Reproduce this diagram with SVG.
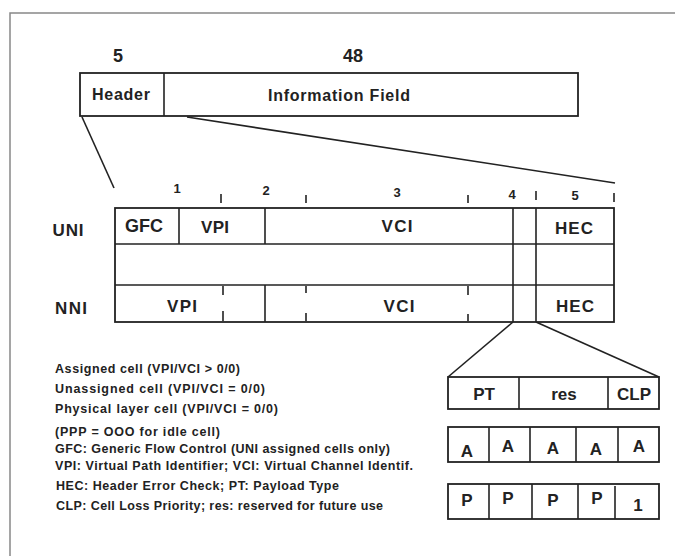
<svg xmlns="http://www.w3.org/2000/svg" width="675" height="556" viewBox="0 0 675 556">
<style>
.ln{stroke:#222;stroke-width:1.6;fill:none}
.bx{stroke:#222;stroke-width:1.8;fill:#fff}
.t{font-family:"Liberation Sans",Arial,sans-serif;font-weight:bold;fill:#222;text-anchor:middle}
.c{font-size:17px}
.n{font-size:13px}
.big{font-size:18px}
.leg{font-family:"Liberation Sans",Arial,sans-serif;font-weight:bold;fill:#222;font-size:12.5px}
</style>
<rect width="675" height="556" fill="#fff"/>
<path d="M10,556 V13 H675" stroke="#888" stroke-width="1.5" fill="none"/>

<g id="cell">
<text class="t big" x="118" y="62">5</text>
<text class="t big" x="353" y="62">48</text>
<rect class="bx" x="80" y="73" width="498" height="43"/>
<line class="ln" x1="164" y1="73" x2="164" y2="116"/>
<text class="t" style="font-size:16px" x="121" y="100" textLength="58" lengthAdjust="spacing">Header</text>
<text class="t" style="font-size:16px" x="339" y="101" textLength="142" lengthAdjust="spacing">Information Field</text>
</g>

<g id="connectors">
<line class="ln" x1="82" y1="117" x2="114" y2="188"/>
<line class="ln" x1="187" y1="117" x2="615" y2="183"/>
<line class="ln" x1="513" y1="322" x2="448" y2="377"/>
<line class="ln" x1="536" y1="322" x2="659" y2="377"/>
</g>

<g id="bytes">
<text class="t n" x="177" y="193">1</text>
<text class="t n" x="266" y="195">2</text>
<text class="t n" x="397" y="197">3</text>
<text class="t n" x="512" y="199">4</text>
<text class="t n" x="575" y="200">5</text>
<line class="ln" x1="221" y1="194" x2="221" y2="203"/>
<line class="ln" x1="306" y1="195" x2="306" y2="203"/>
<line class="ln" x1="468" y1="195" x2="468" y2="203"/>
<line class="ln" x1="536" y1="191" x2="536" y2="200"/>
<line class="ln" x1="614" y1="193" x2="614" y2="202"/>
</g>

<g id="header">
<rect class="bx" x="115" y="208" width="499" height="114"/>
<line class="ln" x1="115" y1="244" x2="614" y2="244"/>
<line class="ln" x1="115" y1="285" x2="614" y2="285"/>
<line class="ln" x1="179" y1="208" x2="179" y2="244"/>
<line class="ln" x1="265" y1="208" x2="265" y2="244"/>
<line class="ln" x1="265" y1="285" x2="265" y2="322"/>
<line class="ln" x1="513" y1="208" x2="513" y2="322"/>
<line class="ln" x1="536" y1="208" x2="536" y2="322"/>
<line class="ln" x1="223" y1="286" x2="223" y2="295"/>
<line class="ln" x1="223" y1="311" x2="223" y2="321"/>
<line class="ln" x1="306" y1="286" x2="306" y2="293"/>
<line class="ln" x1="306" y1="313" x2="306" y2="321"/>
<line class="ln" x1="468" y1="286" x2="468" y2="295"/>
<line class="ln" x1="468" y1="314" x2="468" y2="321"/>
<text class="t c" x="68" y="236" textLength="31" lengthAdjust="spacing">UNI</text>
<text class="t c" x="71" y="314" textLength="32" lengthAdjust="spacing">NNI</text>
<text class="t" style="font-size:18px" x="144" y="232" textLength="38" lengthAdjust="spacing">GFC</text>
<text class="t c" x="215" y="233" textLength="28" lengthAdjust="spacing">VPI</text>
<text class="t c" x="397" y="232" textLength="31" lengthAdjust="spacing">VCI</text>
<text class="t c" x="574" y="234" textLength="38" lengthAdjust="spacing">HEC</text>
<text class="t c" x="182" y="312" textLength="30" lengthAdjust="spacing">VPI</text>
<text class="t c" x="399" y="312" textLength="31" lengthAdjust="spacing">VCI</text>
<text class="t c" x="575" y="312" textLength="38" lengthAdjust="spacing">HEC</text>
</g>

<g id="pt-row">
<rect class="bx" x="448" y="377" width="211" height="32"/>
<line class="ln" x1="519" y1="377" x2="519" y2="409"/>
<line class="ln" x1="608" y1="377" x2="608" y2="409"/>
<text class="t c" x="484" y="400">PT</text>
<text class="t c" x="564" y="400">res</text>
<text class="t c" x="634" y="400">CLP</text>
</g>

<g id="a-row">
<rect class="bx" x="448" y="427" width="211" height="35"/>
<line class="ln" x1="489" y1="427" x2="489" y2="462"/>
<line class="ln" x1="530" y1="427" x2="530" y2="462"/>
<line class="ln" x1="576" y1="427" x2="576" y2="462"/>
<line class="ln" x1="618" y1="427" x2="618" y2="462"/>
<text class="t c" x="467" y="457">A</text>
<text class="t c" x="508" y="452">A</text>
<text class="t c" x="553" y="454">A</text>
<text class="t c" x="596" y="455">A</text>
<text class="t c" x="639" y="452">A</text>
</g>

<g id="p-row">
<rect class="bx" x="448" y="484" width="211" height="35"/>
<line class="ln" x1="489" y1="484" x2="489" y2="519"/>
<line class="ln" x1="532" y1="484" x2="532" y2="519"/>
<line class="ln" x1="578" y1="484" x2="578" y2="519"/>
<line class="ln" x1="615" y1="486" x2="615" y2="519"/>
<text class="t c" x="467" y="506">P</text>
<text class="t c" x="508" y="504">P</text>
<text class="t c" x="553" y="506">P</text>
<text class="t c" x="597" y="504">P</text>
<text class="t c" x="638" y="511">1</text>
</g>

<g id="legend">
<text class="leg" x="55" y="373" textLength="185" lengthAdjust="spacing">Assigned cell (VPI/VCI &gt; 0/0)</text>
<text class="leg" x="55" y="393" textLength="210" lengthAdjust="spacing">Unassigned cell (VPI/VCI  =  0/0)</text>
<text class="leg" x="55" y="413" textLength="223" lengthAdjust="spacing">Physical layer cell (VPI/VCI  =  0/0)</text>
<text class="leg" x="55" y="436" textLength="165" lengthAdjust="spacing">(PPP  =  OOO for idle cell)</text>
<text class="leg" x="55" y="453" textLength="335" lengthAdjust="spacing">GFC: Generic Flow Control (UNI assigned cells only)</text>
<text class="leg" x="55" y="470" textLength="358" lengthAdjust="spacing">VPI: Virtual Path Identifier; VCI: Virtual Channel Identif.</text>
<text class="leg" x="56" y="490" textLength="283" lengthAdjust="spacing">HEC: Header Error Check; PT: Payload Type</text>
<text class="leg" x="56" y="510" textLength="327" lengthAdjust="spacing">CLP: Cell Loss Priority; res: reserved for future use</text>
</g>
</svg>
